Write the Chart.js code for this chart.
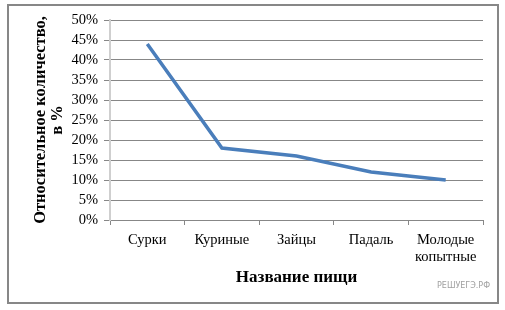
<!DOCTYPE html>
<html>
<head>
<meta charset="utf-8">
<script src="https://cdn.jsdelivr.net/npm/chart.js@4/dist/chart.umd.min.js"></script>
<style>
  html, body { margin: 0; padding: 0; background: #fff; }
  #wrap { width: 505px; height: 310px; }
</style>
</head>
<body>
<div id="wrap"><canvas id="foodChart" width="505" height="310"></canvas></div>
<script>
// data
const foodNames = ["Сурки", "Куриные", "Зайцы", "Падаль", ["Молодые", "копытные"]];
const foodShare = [0.44, 0.18, 0.16, 0.12, 0.10];
const yTicks = [0, 0.05, 0.10, 0.15, 0.20, 0.25, 0.30, 0.35, 0.40, 0.45, 0.50];

const serif = "'Liberation Serif', 'Times New Roman', serif";

// outer frame and watermark
const framePlugin = {
  id: "frame",
  beforeDraw(chart) {
    const ctx = chart.ctx;
    ctx.save();
    ctx.fillStyle = "#fff";
    ctx.fillRect(0, 0, chart.width, chart.height);
    ctx.strokeStyle = "#878787";
    ctx.lineWidth = 2;
    ctx.strokeRect(8, 5, 490, 298);
    ctx.restore();
  },
  afterDraw(chart) {
    const ctx = chart.ctx;
    ctx.save();
    ctx.font = "8px 'DejaVu Sans', sans-serif";
    ctx.fillStyle = "#a0a0a0";
    ctx.textAlign = "left";
    ctx.textBaseline = "middle";
    ctx.fillText("РЕШУЕГЭ.РФ", 437, 286);
    ctx.restore();
  }
};

new Chart(document.getElementById("foodChart").getContext("2d"), {
  type: "line",
  data: {
    labels: foodNames,
    datasets: [
      {
        data: foodShare,
        borderColor: "#4a7ebb",
        borderWidth: 3.5,
        pointRadius: 0,
        tension: 0,
        fill: false,
      },
    ],
  },
  options: {
    responsive: false,
    animation: false,
    events: [],
    layout: { padding: { left: 28, top: 20, right: 22, bottom: 18 } },
    plugins: {
      legend: { display: false },
      tooltip: { enabled: false },
    },
    scales: {
      x: {
        offset: true,
        grid: {
          display: true,
          drawOnChartArea: false,
          offset: true,
          color: "#878787",
          tickLength: 5,
        },
        border: { color: "#878787", width: 1 },
        ticks: {
          color: "#000",
          font: { family: serif, size: 14.5 },
          padding: 6,
          maxRotation: 0,
          autoSkip: false,
        },
        title: {
          display: true,
          text: "Название пищи",
          color: "#000",
          font: { family: serif, size: 17, weight: "bold" },
          padding: { top: 4, bottom: 4 },
        },
        afterFit(scale) { scale.height = 72; },
      },
      y: {
        min: 0,
        max: 0.5,
        afterBuildTicks(scale) {
          scale.ticks = yTicks.map((v) => ({ value: v }));
        },
        grid: {
          color: "#878787",
          tickLength: 6,
        },
        border: { color: "#cfcfcf", width: 2 },
        ticks: {
          color: "#000",
          font: { family: serif, size: 14.5 },
          padding: 6,
          autoSkip: false,
          callback: (v) => Math.round(v * 100) + "%",
        },
        title: {
          display: true,
          text: ["Относительное количество,", "в %"],
          color: "#000",
          font: { family: serif, size: 16.5, weight: "bold", lineHeight: 1.05 },
          padding: { top: 4, bottom: 2 },
        },
        afterFit(scale) { scale.width = 82; },
      },
    },
  },
  plugins: [framePlugin],
});
</script>
</body>
</html>
